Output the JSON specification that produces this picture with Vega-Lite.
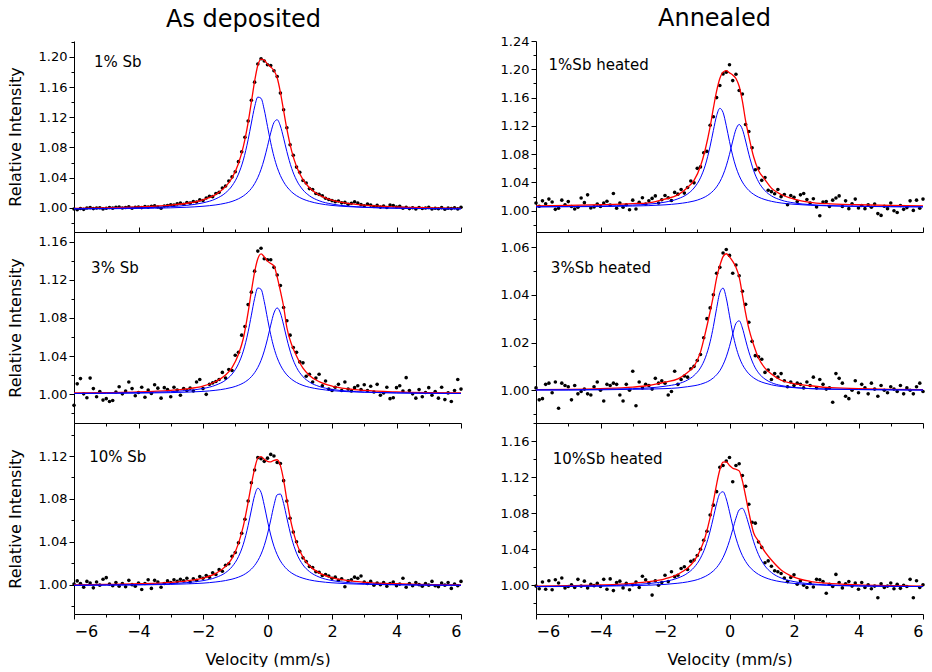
{
"$schema": "https://vega.github.io/schema/vega-lite/v6.json",
"background": "white",
"padding": {"left": 7, "top": 7, "right": 0, "bottom": 0},
"columns": 2,
"spacing": {"row": 0, "column": 75},
"bounds": "flush",
"config": {
 "view": {"stroke": null},
 "axis": {"grid": false, "domainColor": "#000", "tickColor": "#000", "labelColor": "#000", "titleColor": "#000", "labelFont": "DejaVu Sans", "titleFont": "DejaVu Sans", "titleFontWeight": "normal", "domainWidth": 1, "tickWidth": 1, "labelOverlap": false},
 "axisY": {"labelFontSize": 13, "labelPadding": 2, "titleFontSize": 16, "titlePadding": 15},
 "axisX": {"labelFontSize": 16, "titleFontSize": 16, "labelPadding": 4, "titlePadding": 12},
 "title": {"font": "DejaVu Sans", "fontSize": 24, "fontWeight": "normal", "color": "#000"},
 "text": {"font": "DejaVu Sans", "fontSize": 15, "color": "#000", "align": "left", "baseline": "middle"}
},
"datasets": {
 "A1f": [{"x":-6,"y":0.9994},{"x":-5,"y":1.0000},{"x":-4,"y":1.0012},{"x":-3,"y":1.0036},{"x":-2.5,"y":1.0061},{"x":-2,"y":1.0107},{"x":-1.6,"y":1.0179},{"x":-1.3,"y":1.0281},{"x":-1.1,"y":1.0396},{"x":-0.9,"y":1.0587},{"x":-0.75,"y":1.0810},{"x":-0.6,"y":1.1132},{"x":-0.5,"y":1.1401},{"x":-0.4,"y":1.1676},{"x":-0.3,"y":1.1889},{"x":-0.2,"y":1.1971},{"x":-0.1,"y":1.1956},{"x":0,"y":1.1904},{"x":0.1,"y":1.1865},{"x":0.2,"y":1.1819},{"x":0.3,"y":1.1723},{"x":0.4,"y":1.1531},{"x":0.5,"y":1.1287},{"x":0.6,"y":1.1046},{"x":0.75,"y":1.0752},{"x":0.9,"y":1.0548},{"x":1.1,"y":1.0373},{"x":1.3,"y":1.0266},{"x":1.6,"y":1.0170},{"x":2,"y":1.0102},{"x":2.5,"y":1.0059},{"x":3,"y":1.0035},{"x":4,"y":1.0011},{"x":5,"y":1.0000},{"x":6,"y":0.9994}],
 "A1a": [{"x":-6,"y":0.9988},{"x":-5,"y":0.9992},{"x":-4,"y":1.0000},{"x":-3,"y":1.0016},{"x":-2.5,"y":1.0033},{"x":-2,"y":1.0066},{"x":-1.6,"y":1.0120},{"x":-1.3,"y":1.0199},{"x":-1.1,"y":1.0291},{"x":-0.9,"y":1.0447},{"x":-0.75,"y":1.0633},{"x":-0.6,"y":1.0903},{"x":-0.5,"y":1.1124},{"x":-0.4,"y":1.1336},{"x":-0.3,"y":1.1467},{"x":-0.2,"y":1.1451},{"x":-0.1,"y":1.1298},{"x":0,"y":1.1078},{"x":0.1,"y":1.0862},{"x":0.2,"y":1.0679},{"x":0.3,"y":1.0536},{"x":0.4,"y":1.0427},{"x":0.5,"y":1.0344},{"x":0.6,"y":1.0280},{"x":0.75,"y":1.0210},{"x":0.9,"y":1.0161},{"x":1.1,"y":1.0116},{"x":1.3,"y":1.0086},{"x":1.6,"y":1.0056},{"x":2,"y":1.0032},{"x":2.5,"y":1.0016},{"x":3,"y":1.0006},{"x":4,"y":0.9995},{"x":5,"y":0.9990},{"x":6,"y":0.9987}],
 "A1b": [{"x":-6,"y":0.9986},{"x":-5,"y":0.9988},{"x":-4,"y":0.9992},{"x":-3,"y":1.0000},{"x":-2.5,"y":1.0008},{"x":-2,"y":1.0021},{"x":-1.6,"y":1.0039},{"x":-1.3,"y":1.0062},{"x":-1.1,"y":1.0085},{"x":-0.9,"y":1.0120},{"x":-0.75,"y":1.0157},{"x":-0.6,"y":1.0209},{"x":-0.5,"y":1.0257},{"x":-0.4,"y":1.0320},{"x":-0.3,"y":1.0402},{"x":-0.2,"y":1.0510},{"x":-0.1,"y":1.0648},{"x":0,"y":1.0816},{"x":0.1,"y":1.0993},{"x":0.2,"y":1.1130},{"x":0.3,"y":1.1167},{"x":0.4,"y":1.1084},{"x":0.5,"y":1.0923},{"x":0.6,"y":1.0746},{"x":0.75,"y":1.0522},{"x":0.9,"y":1.0367},{"x":1.1,"y":1.0237},{"x":1.3,"y":1.0160},{"x":1.6,"y":1.0094},{"x":2,"y":1.0050},{"x":2.5,"y":1.0023},{"x":3,"y":1.0009},{"x":4,"y":0.9996},{"x":5,"y":0.9990},{"x":6,"y":0.9987}],
 "A2f": [{"x":-6,"y":1.0014},{"x":-5,"y":1.0018},{"x":-4,"y":1.0025},{"x":-3,"y":1.0042},{"x":-2.5,"y":1.0058},{"x":-2,"y":1.0087},{"x":-1.6,"y":1.0135},{"x":-1.3,"y":1.0202},{"x":-1.1,"y":1.0280},{"x":-0.9,"y":1.0420},{"x":-0.75,"y":1.0585},{"x":-0.6,"y":1.0860},{"x":-0.5,"y":1.1080},{"x":-0.4,"y":1.1280},{"x":-0.3,"y":1.1420},{"x":-0.2,"y":1.1470},{"x":-0.1,"y":1.1440},{"x":0,"y":1.1395},{"x":0.1,"y":1.1370},{"x":0.2,"y":1.1345},{"x":0.3,"y":1.1230},{"x":0.4,"y":1.1080},{"x":0.5,"y":1.0920},{"x":0.6,"y":1.0700},{"x":0.75,"y":1.0520},{"x":0.9,"y":1.0401},{"x":1.1,"y":1.0274},{"x":1.3,"y":1.0198},{"x":1.6,"y":1.0133},{"x":2,"y":1.0086},{"x":2.5,"y":1.0057},{"x":3,"y":1.0041},{"x":4,"y":1.0025},{"x":5,"y":1.0017},{"x":6,"y":1.0014}],
 "A2a": [{"x":-6,"y":1.0010},{"x":-5,"y":1.0013},{"x":-4,"y":1.0018},{"x":-3,"y":1.0028},{"x":-2.5,"y":1.0040},{"x":-2,"y":1.0061},{"x":-1.6,"y":1.0097},{"x":-1.3,"y":1.0149},{"x":-1.1,"y":1.0212},{"x":-0.9,"y":1.0320},{"x":-0.75,"y":1.0453},{"x":-0.6,"y":1.0655},{"x":-0.5,"y":1.0829},{"x":-0.4,"y":1.1003},{"x":-0.3,"y":1.1114},{"x":-0.2,"y":1.1100},{"x":-0.1,"y":1.0971},{"x":0,"y":1.0792},{"x":0.1,"y":1.0624},{"x":0.2,"y":1.0487},{"x":0.3,"y":1.0383},{"x":0.4,"y":1.0306},{"x":0.5,"y":1.0248},{"x":0.6,"y":1.0204},{"x":0.75,"y":1.0157},{"x":0.9,"y":1.0124},{"x":1.1,"y":1.0094},{"x":1.3,"y":1.0074},{"x":1.6,"y":1.0055},{"x":2,"y":1.0039},{"x":2.5,"y":1.0028},{"x":3,"y":1.0022},{"x":4,"y":1.0015},{"x":5,"y":1.0011},{"x":6,"y":1.0010}],
 "A2b": [{"x":-6,"y":1.0009},{"x":-5,"y":1.0010},{"x":-4,"y":1.0013},{"x":-3,"y":1.0018},{"x":-2.5,"y":1.0023},{"x":-2,"y":1.0031},{"x":-1.6,"y":1.0043},{"x":-1.3,"y":1.0058},{"x":-1.1,"y":1.0073},{"x":-0.9,"y":1.0095},{"x":-0.75,"y":1.0119},{"x":-0.6,"y":1.0153},{"x":-0.5,"y":1.0185},{"x":-0.4,"y":1.0227},{"x":-0.3,"y":1.0282},{"x":-0.2,"y":1.0356},{"x":-0.1,"y":1.0455},{"x":0,"y":1.0581},{"x":0.1,"y":1.0725},{"x":0.2,"y":1.0852},{"x":0.3,"y":1.0905},{"x":0.4,"y":1.0852},{"x":0.5,"y":1.0725},{"x":0.6,"y":1.0581},{"x":0.75,"y":1.0402},{"x":0.9,"y":1.0282},{"x":1.1,"y":1.0185},{"x":1.3,"y":1.0129},{"x":1.6,"y":1.0083},{"x":2,"y":1.0052},{"x":2.5,"y":1.0034},{"x":3,"y":1.0024},{"x":4,"y":1.0015},{"x":5,"y":1.0011},{"x":6,"y":1.0009}],
 "A3f": [{"x":-6,"y":0.9998},{"x":-5,"y":1.0002},{"x":-4,"y":1.0008},{"x":-3,"y":1.0021},{"x":-2.5,"y":1.0036},{"x":-2,"y":1.0061},{"x":-1.6,"y":1.0105},{"x":-1.3,"y":1.0170},{"x":-1.1,"y":1.0245},{"x":-0.9,"y":1.0385},{"x":-0.75,"y":1.0545},{"x":-0.6,"y":1.0770},{"x":-0.5,"y":1.0935},{"x":-0.4,"y":1.1080},{"x":-0.3,"y":1.1180},{"x":-0.2,"y":1.1195},{"x":-0.1,"y":1.1170},{"x":0,"y":1.1150},{"x":0.1,"y":1.1145},{"x":0.2,"y":1.1160},{"x":0.3,"y":1.1165},{"x":0.4,"y":1.1110},{"x":0.5,"y":1.0975},{"x":0.6,"y":1.0790},{"x":0.75,"y":1.0555},{"x":0.9,"y":1.0390},{"x":1.1,"y":1.0256},{"x":1.3,"y":1.0176},{"x":1.6,"y":1.0110},{"x":2,"y":1.0065},{"x":2.5,"y":1.0037},{"x":3,"y":1.0022},{"x":4,"y":1.0008},{"x":5,"y":1.0001},{"x":6,"y":0.9998}],
 "A3a": [{"x":-6,"y":0.9994},{"x":-5,"y":0.9997},{"x":-4,"y":1.0000},{"x":-3,"y":1.0009},{"x":-2.5,"y":1.0019},{"x":-2,"y":1.0037},{"x":-1.6,"y":1.0067},{"x":-1.3,"y":1.0112},{"x":-1.1,"y":1.0167},{"x":-0.9,"y":1.0261},{"x":-0.75,"y":1.0377},{"x":-0.6,"y":1.0552},{"x":-0.5,"y":1.0696},{"x":-0.4,"y":1.0831},{"x":-0.3,"y":1.0899},{"x":-0.2,"y":1.0861},{"x":-0.1,"y":1.0740},{"x":0,"y":1.0594},{"x":0.1,"y":1.0463},{"x":0.2,"y":1.0358},{"x":0.3,"y":1.0280},{"x":0.4,"y":1.0221},{"x":0.5,"y":1.0178},{"x":0.6,"y":1.0144},{"x":0.75,"y":1.0108},{"x":0.9,"y":1.0083},{"x":1.1,"y":1.0060},{"x":1.3,"y":1.0044},{"x":1.6,"y":1.0029},{"x":2,"y":1.0017},{"x":2.5,"y":1.0008},{"x":3,"y":1.0003},{"x":4,"y":0.9998},{"x":5,"y":0.9995},{"x":6,"y":0.9994}],
 "A3b": [{"x":-6,"y":0.9993},{"x":-5,"y":0.9995},{"x":-4,"y":0.9997},{"x":-3,"y":1.0002},{"x":-2.5,"y":1.0007},{"x":-2,"y":1.0014},{"x":-1.6,"y":1.0025},{"x":-1.3,"y":1.0038},{"x":-1.1,"y":1.0051},{"x":-0.9,"y":1.0070},{"x":-0.75,"y":1.0090},{"x":-0.6,"y":1.0119},{"x":-0.5,"y":1.0145},{"x":-0.4,"y":1.0179},{"x":-0.3,"y":1.0224},{"x":-0.2,"y":1.0284},{"x":-0.1,"y":1.0365},{"x":0,"y":1.0472},{"x":0.1,"y":1.0602},{"x":0.2,"y":1.0740},{"x":0.3,"y":1.0838},{"x":0.4,"y":1.0845},{"x":0.5,"y":1.0757},{"x":0.6,"y":1.0622},{"x":0.75,"y":1.0430},{"x":0.9,"y":1.0294},{"x":1.1,"y":1.0184},{"x":1.3,"y":1.0122},{"x":1.6,"y":1.0071},{"x":2,"y":1.0038},{"x":2.5,"y":1.0019},{"x":3,"y":1.0009},{"x":4,"y":1.0000},{"x":5,"y":0.9996},{"x":6,"y":0.9994}],
 "B1f": [{"x":-6,"y":1.0070},{"x":-5,"y":1.0075},{"x":-4,"y":1.0085},{"x":-3,"y":1.0100},{"x":-2.5,"y":1.0113},{"x":-2,"y":1.0165},{"x":-1.6,"y":1.0225},{"x":-1.3,"y":1.0330},{"x":-1.1,"y":1.0430},{"x":-0.9,"y":1.0630},{"x":-0.75,"y":1.0870},{"x":-0.6,"y":1.1190},{"x":-0.5,"y":1.1450},{"x":-0.4,"y":1.1690},{"x":-0.3,"y":1.1870},{"x":-0.2,"y":1.1960},{"x":-0.1,"y":1.1980},{"x":0,"y":1.1950},{"x":0.1,"y":1.1920},{"x":0.2,"y":1.1870},{"x":0.3,"y":1.1760},{"x":0.4,"y":1.1550},{"x":0.5,"y":1.1270},{"x":0.6,"y":1.1050},{"x":0.75,"y":1.0760},{"x":0.9,"y":1.0570},{"x":1.1,"y":1.0440},{"x":1.3,"y":1.0320},{"x":1.6,"y":1.0230},{"x":2,"y":1.0165},{"x":2.5,"y":1.0120},{"x":3,"y":1.0100},{"x":4,"y":1.0085},{"x":5,"y":1.0075},{"x":6,"y":1.0070}],
 "B1a": [{"x":-6,"y":1.0057},{"x":-5,"y":1.0060},{"x":-4,"y":1.0066},{"x":-3,"y":1.0080},{"x":-2.5,"y":1.0094},{"x":-2,"y":1.0122},{"x":-1.6,"y":1.0169},{"x":-1.3,"y":1.0238},{"x":-1.1,"y":1.0322},{"x":-0.9,"y":1.0466},{"x":-0.75,"y":1.0645},{"x":-0.6,"y":1.0914},{"x":-0.5,"y":1.1136},{"x":-0.4,"y":1.1343},{"x":-0.3,"y":1.1448},{"x":-0.2,"y":1.1390},{"x":-0.1,"y":1.1203},{"x":0,"y":1.0979},{"x":0.1,"y":1.0777},{"x":0.2,"y":1.0617},{"x":0.3,"y":1.0496},{"x":0.4,"y":1.0406},{"x":0.5,"y":1.0339},{"x":0.6,"y":1.0287},{"x":0.75,"y":1.0232},{"x":0.9,"y":1.0193},{"x":1.1,"y":1.0158},{"x":1.3,"y":1.0134},{"x":1.6,"y":1.0110},{"x":2,"y":1.0092},{"x":2.5,"y":1.0078},{"x":3,"y":1.0070},{"x":4,"y":1.0062},{"x":5,"y":1.0058},{"x":6,"y":1.0056}],
 "B1b": [{"x":-6,"y":1.0055},{"x":-5,"y":1.0057},{"x":-4,"y":1.0060},{"x":-3,"y":1.0067},{"x":-2.5,"y":1.0073},{"x":-2,"y":1.0084},{"x":-1.6,"y":1.0100},{"x":-1.3,"y":1.0119},{"x":-1.1,"y":1.0138},{"x":-0.9,"y":1.0167},{"x":-0.75,"y":1.0198},{"x":-0.6,"y":1.0243},{"x":-0.5,"y":1.0284},{"x":-0.4,"y":1.0338},{"x":-0.3,"y":1.0410},{"x":-0.2,"y":1.0507},{"x":-0.1,"y":1.0635},{"x":0,"y":1.0799},{"x":0.1,"y":1.0986},{"x":0.2,"y":1.1151},{"x":0.3,"y":1.1220},{"x":0.4,"y":1.1151},{"x":0.5,"y":1.0986},{"x":0.6,"y":1.0799},{"x":0.75,"y":1.0566},{"x":0.9,"y":1.0410},{"x":1.1,"y":1.0284},{"x":1.3,"y":1.0211},{"x":1.6,"y":1.0151},{"x":2,"y":1.0111},{"x":2.5,"y":1.0087},{"x":3,"y":1.0075},{"x":4,"y":1.0064},{"x":5,"y":1.0058},{"x":6,"y":1.0056}],
 "B2f": [{"x":-6,"y":1.0003},{"x":-5,"y":1.0004},{"x":-4,"y":1.0007},{"x":-3,"y":1.0013},{"x":-2.5,"y":1.0020},{"x":-2,"y":1.0034},{"x":-1.6,"y":1.0048},{"x":-1.3,"y":1.0075},{"x":-1.1,"y":1.0100},{"x":-0.9,"y":1.0160},{"x":-0.75,"y":1.0240},{"x":-0.6,"y":1.0330},{"x":-0.5,"y":1.0395},{"x":-0.4,"y":1.0470},{"x":-0.3,"y":1.0522},{"x":-0.2,"y":1.0560},{"x":-0.1,"y":1.0572},{"x":0,"y":1.0559},{"x":0.1,"y":1.0540},{"x":0.2,"y":1.0515},{"x":0.3,"y":1.0475},{"x":0.4,"y":1.0400},{"x":0.5,"y":1.0323},{"x":0.6,"y":1.0258},{"x":0.75,"y":1.0190},{"x":0.9,"y":1.0135},{"x":1.1,"y":1.0093},{"x":1.3,"y":1.0068},{"x":1.6,"y":1.0042},{"x":2,"y":1.0028},{"x":2.5,"y":1.0019},{"x":3,"y":1.0012},{"x":4,"y":1.0007},{"x":5,"y":1.0004},{"x":6,"y":1.0003}],
 "B2a": [{"x":-6,"y":1.0002},{"x":-5,"y":1.0002},{"x":-4,"y":1.0004},{"x":-3,"y":1.0007},{"x":-2.5,"y":1.0010},{"x":-2,"y":1.0017},{"x":-1.6,"y":1.0027},{"x":-1.3,"y":1.0043},{"x":-1.1,"y":1.0062},{"x":-0.9,"y":1.0094},{"x":-0.75,"y":1.0136},{"x":-0.6,"y":1.0203},{"x":-0.5,"y":1.0267},{"x":-0.4,"y":1.0343},{"x":-0.3,"y":1.0409},{"x":-0.2,"y":1.0428},{"x":-0.1,"y":1.0386},{"x":0,"y":1.0312},{"x":0.1,"y":1.0240},{"x":0.2,"y":1.0182},{"x":0.3,"y":1.0139},{"x":0.4,"y":1.0108},{"x":0.5,"y":1.0086},{"x":0.6,"y":1.0069},{"x":0.75,"y":1.0052},{"x":0.9,"y":1.0040},{"x":1.1,"y":1.0030},{"x":1.3,"y":1.0023},{"x":1.6,"y":1.0016},{"x":2,"y":1.0011},{"x":2.5,"y":1.0007},{"x":3,"y":1.0005},{"x":4,"y":1.0003},{"x":5,"y":1.0002},{"x":6,"y":1.0001}],
 "B2b": [{"x":-6,"y":1.0001},{"x":-5,"y":1.0001},{"x":-4,"y":1.0002},{"x":-3,"y":1.0004},{"x":-2.5,"y":1.0005},{"x":-2,"y":1.0007},{"x":-1.6,"y":1.0010},{"x":-1.3,"y":1.0015},{"x":-1.1,"y":1.0019},{"x":-0.9,"y":1.0025},{"x":-0.75,"y":1.0032},{"x":-0.6,"y":1.0042},{"x":-0.5,"y":1.0052},{"x":-0.4,"y":1.0065},{"x":-0.3,"y":1.0082},{"x":-0.2,"y":1.0107},{"x":-0.1,"y":1.0140},{"x":0,"y":1.0184},{"x":0.1,"y":1.0236},{"x":0.2,"y":1.0280},{"x":0.3,"y":1.0291},{"x":0.4,"y":1.0261},{"x":0.5,"y":1.0210},{"x":0.6,"y":1.0161},{"x":0.75,"y":1.0107},{"x":0.9,"y":1.0073},{"x":1.1,"y":1.0047},{"x":1.3,"y":1.0032},{"x":1.6,"y":1.0020},{"x":2,"y":1.0012},{"x":2.5,"y":1.0007},{"x":3,"y":1.0005},{"x":4,"y":1.0003},{"x":5,"y":1.0002},{"x":6,"y":1.0001}],
 "B3f": [{"x":-6,"y":0.9990},{"x":-5,"y":0.9995},{"x":-4,"y":1.0003},{"x":-3,"y":1.0021},{"x":-2.5,"y":1.0039},{"x":-2,"y":1.0071},{"x":-1.6,"y":1.0122},{"x":-1.3,"y":1.0191},{"x":-1.1,"y":1.0269},{"x":-0.9,"y":1.0395},{"x":-0.75,"y":1.0542},{"x":-0.6,"y":1.0753},{"x":-0.5,"y":1.0932},{"x":-0.4,"y":1.1122},{"x":-0.3,"y":1.1283},{"x":-0.2,"y":1.1367},{"x":-0.1,"y":1.1370},{"x":0,"y":1.1331},{"x":0.1,"y":1.1300},{"x":0.2,"y":1.1289},{"x":0.3,"y":1.1271},{"x":0.4,"y":1.1160},{"x":0.5,"y":1.0990},{"x":0.6,"y":1.0810},{"x":0.75,"y":1.0580},{"x":0.9,"y":1.0490},{"x":1.1,"y":1.0370},{"x":1.3,"y":1.0280},{"x":1.6,"y":1.0170},{"x":2,"y":1.0090},{"x":2.5,"y":1.0043},{"x":3,"y":1.0023},{"x":4,"y":1.0004},{"x":5,"y":0.9995},{"x":6,"y":0.9990}],
 "B3a": [{"x":-6,"y":0.9986},{"x":-5,"y":0.9989},{"x":-4,"y":0.9994},{"x":-3,"y":1.0006},{"x":-2.5,"y":1.0019},{"x":-2,"y":1.0042},{"x":-1.6,"y":1.0080},{"x":-1.3,"y":1.0134},{"x":-1.1,"y":1.0197},{"x":-0.9,"y":1.0301},{"x":-0.75,"y":1.0424},{"x":-0.6,"y":1.0603},{"x":-0.5,"y":1.0753},{"x":-0.4,"y":1.0906},{"x":-0.3,"y":1.1018},{"x":-0.2,"y":1.1039},{"x":-0.1,"y":1.0959},{"x":0,"y":1.0816},{"x":0.1,"y":1.0661},{"x":0.2,"y":1.0524},{"x":0.3,"y":1.0414},{"x":0.4,"y":1.0329},{"x":0.5,"y":1.0264},{"x":0.6,"y":1.0213},{"x":0.75,"y":1.0159},{"x":0.9,"y":1.0120},{"x":1.1,"y":1.0085},{"x":1.3,"y":1.0061},{"x":1.6,"y":1.0038},{"x":2,"y":1.0020},{"x":2.5,"y":1.0007},{"x":3,"y":0.9999},{"x":4,"y":0.9991},{"x":5,"y":0.9987},{"x":6,"y":0.9985}],
 "B3b": [{"x":-6,"y":0.9984},{"x":-5,"y":0.9986},{"x":-4,"y":0.9989},{"x":-3,"y":0.9995},{"x":-2.5,"y":1.0000},{"x":-2,"y":1.0009},{"x":-1.6,"y":1.0022},{"x":-1.3,"y":1.0037},{"x":-1.1,"y":1.0052},{"x":-0.9,"y":1.0074},{"x":-0.75,"y":1.0098},{"x":-0.6,"y":1.0130},{"x":-0.5,"y":1.0159},{"x":-0.4,"y":1.0196},{"x":-0.3,"y":1.0245},{"x":-0.2,"y":1.0308},{"x":-0.1,"y":1.0391},{"x":0,"y":1.0495},{"x":0.1,"y":1.0619},{"x":0.2,"y":1.0745},{"x":0.3,"y":1.0837},{"x":0.4,"y":1.0855},{"x":0.5,"y":1.0788},{"x":0.6,"y":1.0670},{"x":0.75,"y":1.0483},{"x":0.9,"y":1.0339},{"x":1.1,"y":1.0214},{"x":1.3,"y":1.0141},{"x":1.6,"y":1.0080},{"x":2,"y":1.0040},{"x":2.5,"y":1.0016},{"x":3,"y":1.0004},{"x":4,"y":0.9993},{"x":5,"y":0.9988},{"x":6,"y":0.9985}],
 "A1p": [
  {"x":-6.0,"y":0.9985},{"x":-5.9,"y":0.9975},{"x":-5.8,"y":0.9992},{"x":-5.7,"y":0.9980},{"x":-5.6,"y":0.9998},{"x":-5.5,"y":1.0003},{"x":-5.4,"y":0.9990},{"x":-5.3,"y":0.9997},{"x":-5.2,"y":1.0002},{"x":-5.1,"y":0.9986},
  {"x":-5.0,"y":0.9995},{"x":-4.9,"y":1.0004},{"x":-4.8,"y":0.9996},{"x":-4.7,"y":1.0008},{"x":-4.6,"y":1.0012},{"x":-4.5,"y":0.9998},{"x":-4.4,"y":1.0005},{"x":-4.3,"y":1.0015},{"x":-4.2,"y":0.9994},{"x":-4.1,"y":1.0008},
  {"x":-4.0,"y":1.0011},{"x":-3.9,"y":1.0003},{"x":-3.8,"y":1.0017},{"x":-3.7,"y":1.0009},{"x":-3.6,"y":1.0021},{"x":-3.5,"y":1.0026},{"x":-3.4,"y":1.0012},{"x":-3.3,"y":0.9995},{"x":-3.2,"y":1.0024},{"x":-3.1,"y":1.0030},
  {"x":-3.0,"y":1.0041},{"x":-2.9,"y":1.0036},{"x":-2.8,"y":1.0052},{"x":-2.7,"y":1.0065},{"x":-2.6,"y":1.0048},{"x":-2.5,"y":1.0070},{"x":-2.4,"y":1.0062},{"x":-2.3,"y":1.0084},{"x":-2.2,"y":1.0078},{"x":-2.1,"y":1.0105},
  {"x":-2.0,"y":1.0098},{"x":-1.9,"y":1.0131},{"x":-1.8,"y":1.0152},{"x":-1.7,"y":1.0148},{"x":-1.6,"y":1.0190},{"x":-1.5,"y":1.0205},{"x":-1.4,"y":1.0262},{"x":-1.3,"y":1.0290},{"x":-1.2,"y":1.0355},{"x":-1.1,"y":1.0410},
  {"x":-1.0,"y":1.0478},{"x":-0.9,"y":1.0612},{"x":-0.8,"y":1.0742},{"x":-0.7,"y":1.0935},{"x":-0.6,"y":1.1150},{"x":-0.5,"y":1.1425},{"x":-0.4,"y":1.1665},{"x":-0.3,"y":1.1905},{"x":-0.2,"y":1.1975},{"x":-0.1,"y":1.1945},
  {"x":0.0,"y":1.1895},{"x":0.1,"y":1.1885},{"x":0.2,"y":1.1815},{"x":0.3,"y":1.1740},{"x":0.4,"y":1.1520},{"x":0.5,"y":1.1300},{"x":0.6,"y":1.1060},{"x":0.7,"y":1.0835},{"x":0.8,"y":1.0695},{"x":0.9,"y":1.0540},
  {"x":1.0,"y":1.0470},{"x":1.1,"y":1.0362},{"x":1.2,"y":1.0330},{"x":1.3,"y":1.0255},{"x":1.4,"y":1.0242},{"x":1.5,"y":1.0190},{"x":1.6,"y":1.0178},{"x":1.7,"y":1.0160},{"x":1.8,"y":1.0128},{"x":1.9,"y":1.0110},
  {"x":2.0,"y":1.0096},{"x":2.1,"y":1.0082},{"x":2.2,"y":1.0090},{"x":2.3,"y":1.0066},{"x":2.4,"y":1.0072},{"x":2.5,"y":1.0048},{"x":2.6,"y":1.0060},{"x":2.7,"y":1.0080},{"x":2.8,"y":1.0065},{"x":2.9,"y":1.0042},
  {"x":3.0,"y":1.0028},{"x":3.1,"y":1.0050},{"x":3.2,"y":1.0036},{"x":3.3,"y":1.0018},{"x":3.4,"y":1.0032},{"x":3.5,"y":1.0010},{"x":3.6,"y":1.0024},{"x":3.7,"y":1.0005},{"x":3.8,"y":1.0038},{"x":3.9,"y":1.0030},
  {"x":4.0,"y":1.0012},{"x":4.1,"y":1.0020},{"x":4.2,"y":0.9995},{"x":4.3,"y":1.0008},{"x":4.4,"y":0.9990},{"x":4.5,"y":1.0002},{"x":4.6,"y":0.9985},{"x":4.7,"y":1.0004},{"x":4.8,"y":0.9992},{"x":4.9,"y":0.9998},
  {"x":5.0,"y":1.0006},{"x":5.1,"y":0.9984},{"x":5.2,"y":0.9995},{"x":5.3,"y":0.9988},{"x":5.4,"y":1.0003},{"x":5.5,"y":0.9982},{"x":5.6,"y":0.9996},{"x":5.7,"y":0.9990},{"x":5.8,"y":1.0001},{"x":5.9,"y":0.9986},{"x":6.0,"y":1.0008}
 ],
 "A2p": [
  {"x":-6.0,"y":0.9885},{"x":-5.9,"y":1.0110},{"x":-5.8,"y":1.0165},{"x":-5.7,"y":1.0005},{"x":-5.6,"y":0.9965},{"x":-5.5,"y":1.0170},{"x":-5.4,"y":1.0060},{"x":-5.3,"y":0.9975},{"x":-5.2,"y":1.0030},{"x":-5.1,"y":0.9940},
  {"x":-5.0,"y":0.9955},{"x":-4.9,"y":0.9925},{"x":-4.8,"y":0.9935},{"x":-4.7,"y":1.0025},{"x":-4.6,"y":1.0080},{"x":-4.5,"y":1.0005},{"x":-4.4,"y":1.0035},{"x":-4.3,"y":1.0130},{"x":-4.2,"y":1.0060},{"x":-4.1,"y":0.9985},
  {"x":-4.0,"y":1.0020},{"x":-3.9,"y":1.0075},{"x":-3.8,"y":0.9970},{"x":-3.7,"y":1.0045},{"x":-3.6,"y":1.0010},{"x":-3.5,"y":1.0100},{"x":-3.4,"y":1.0065},{"x":-3.3,"y":0.9960},{"x":-3.2,"y":1.0070},{"x":-3.1,"y":1.0050},
  {"x":-3.0,"y":0.9975},{"x":-2.9,"y":1.0075},{"x":-2.8,"y":1.0045},{"x":-2.7,"y":0.9990},{"x":-2.6,"y":1.0060},{"x":-2.5,"y":1.0040},{"x":-2.4,"y":1.0065},{"x":-2.3,"y":1.0035},{"x":-2.2,"y":1.0130},{"x":-2.1,"y":1.0155},
  {"x":-2.0,"y":1.0060},{"x":-1.9,"y":1.0000},{"x":-1.8,"y":1.0105},{"x":-1.7,"y":1.0120},{"x":-1.6,"y":1.0135},{"x":-1.5,"y":1.0155},{"x":-1.4,"y":1.0230},{"x":-1.3,"y":1.0170},{"x":-1.2,"y":1.0260},{"x":-1.1,"y":1.0250},
  {"x":-1.0,"y":1.0410},{"x":-0.9,"y":1.0440},{"x":-0.8,"y":1.0620},{"x":-0.7,"y":1.0710},{"x":-0.6,"y":1.0940},{"x":-0.5,"y":1.1070},{"x":-0.4,"y":1.1290},{"x":-0.3,"y":1.1500},{"x":-0.2,"y":1.1530},{"x":-0.1,"y":1.1420},
  {"x":0.0,"y":1.1410},{"x":0.1,"y":1.1410},{"x":0.2,"y":1.1330},{"x":0.3,"y":1.1250},{"x":0.4,"y":1.1140},{"x":0.5,"y":1.0910},{"x":0.6,"y":1.0770},{"x":0.7,"y":1.0620},{"x":0.8,"y":1.0490},{"x":0.9,"y":1.0440},
  {"x":1.0,"y":1.0340},{"x":1.1,"y":1.0330},{"x":1.2,"y":1.0190},{"x":1.3,"y":1.0210},{"x":1.4,"y":1.0130},{"x":1.5,"y":1.0170},{"x":1.6,"y":1.0210},{"x":1.7,"y":1.0090},{"x":1.8,"y":1.0140},{"x":1.9,"y":1.0055},
  {"x":2.0,"y":1.0040},{"x":2.1,"y":1.0075},{"x":2.2,"y":1.0105},{"x":2.3,"y":1.0040},{"x":2.4,"y":1.0130},{"x":2.5,"y":1.0055},{"x":2.6,"y":1.0035},{"x":2.7,"y":1.0070},{"x":2.8,"y":1.0090},{"x":2.9,"y":1.0050},
  {"x":3.0,"y":1.0100},{"x":3.1,"y":1.0040},{"x":3.2,"y":1.0085},{"x":3.3,"y":1.0025},{"x":3.4,"y":1.0105},{"x":3.5,"y":0.9990},{"x":3.6,"y":1.0015},{"x":3.7,"y":1.0075},{"x":3.8,"y":0.9955},{"x":3.9,"y":0.9965},
  {"x":4.0,"y":1.0070},{"x":4.1,"y":1.0090},{"x":4.2,"y":1.0035},{"x":4.3,"y":1.0175},{"x":4.4,"y":1.0040},{"x":4.5,"y":1.0005},{"x":4.6,"y":0.9960},{"x":4.7,"y":1.0050},{"x":4.8,"y":0.9975},{"x":4.9,"y":1.0020},
  {"x":5.0,"y":1.0070},{"x":5.1,"y":0.9990},{"x":5.2,"y":1.0030},{"x":5.3,"y":0.9960},{"x":5.4,"y":1.0075},{"x":5.5,"y":0.9945},{"x":5.6,"y":1.0015},{"x":5.7,"y":0.9925},{"x":5.8,"y":1.0040},{"x":5.9,"y":1.0155},{"x":6.0,"y":1.0055}
 ],
 "A3p": [
  {"x":-6.0,"y":1.0005},{"x":-5.9,"y":1.0035},{"x":-5.8,"y":1.0010},{"x":-5.7,"y":0.9975},{"x":-5.6,"y":1.0030},{"x":-5.5,"y":1.0015},{"x":-5.4,"y":0.9970},{"x":-5.3,"y":1.0025},{"x":-5.2,"y":0.9995},{"x":-5.1,"y":1.0050},
  {"x":-5.0,"y":1.0065},{"x":-4.9,"y":1.0005},{"x":-4.8,"y":0.9990},{"x":-4.7,"y":1.0020},{"x":-4.6,"y":0.9985},{"x":-4.5,"y":1.0010},{"x":-4.4,"y":0.9980},{"x":-4.3,"y":1.0040},{"x":-4.2,"y":1.0000},{"x":-4.1,"y":0.9985},
  {"x":-4.0,"y":1.0015},{"x":-3.9,"y":0.9955},{"x":-3.8,"y":1.0010},{"x":-3.7,"y":1.0045},{"x":-3.6,"y":0.9965},{"x":-3.5,"y":1.0040},{"x":-3.4,"y":1.0025},{"x":-3.3,"y":0.9975},{"x":-3.2,"y":1.0010},{"x":-3.1,"y":1.0035},
  {"x":-3.0,"y":1.0020},{"x":-2.9,"y":1.0045},{"x":-2.8,"y":1.0030},{"x":-2.7,"y":1.0050},{"x":-2.6,"y":1.0035},{"x":-2.5,"y":1.0060},{"x":-2.4,"y":1.0025},{"x":-2.3,"y":1.0055},{"x":-2.2,"y":1.0040},{"x":-2.1,"y":1.0075},
  {"x":-2.0,"y":1.0060},{"x":-1.9,"y":1.0085},{"x":-1.8,"y":1.0070},{"x":-1.7,"y":1.0110},{"x":-1.6,"y":1.0095},{"x":-1.5,"y":1.0140},{"x":-1.4,"y":1.0125},{"x":-1.3,"y":1.0180},{"x":-1.2,"y":1.0195},{"x":-1.1,"y":1.0265},
  {"x":-1.0,"y":1.0300},{"x":-0.9,"y":1.0390},{"x":-0.8,"y":1.0480},{"x":-0.7,"y":1.0610},{"x":-0.6,"y":1.0780},{"x":-0.5,"y":1.0950},{"x":-0.4,"y":1.1070},{"x":-0.3,"y":1.1185},{"x":-0.2,"y":1.1175},{"x":-0.1,"y":1.1150},
  {"x":0.0,"y":1.1180},{"x":0.1,"y":1.1215},{"x":0.2,"y":1.1200},{"x":0.3,"y":1.1140},{"x":0.4,"y":1.1130},{"x":0.5,"y":1.0970},{"x":0.6,"y":1.0780},{"x":0.7,"y":1.0620},{"x":0.8,"y":1.0490},{"x":0.9,"y":1.0400},
  {"x":1.0,"y":1.0310},{"x":1.1,"y":1.0250},{"x":1.2,"y":1.0215},{"x":1.3,"y":1.0170},{"x":1.4,"y":1.0160},{"x":1.5,"y":1.0120},{"x":1.6,"y":1.0115},{"x":1.7,"y":1.0085},{"x":1.8,"y":1.0095},{"x":1.9,"y":1.0080},
  {"x":2.0,"y":1.0060},{"x":2.1,"y":1.0070},{"x":2.2,"y":1.0040},{"x":2.3,"y":1.0055},{"x":2.4,"y":0.9980},{"x":2.5,"y":1.0035},{"x":2.6,"y":1.0045},{"x":2.7,"y":1.0070},{"x":2.8,"y":1.0060},{"x":2.9,"y":1.0080},
  {"x":3.0,"y":1.0025},{"x":3.1,"y":1.0010},{"x":3.2,"y":1.0030},{"x":3.3,"y":0.9995},{"x":3.4,"y":1.0015},{"x":3.5,"y":1.0000},{"x":3.6,"y":1.0020},{"x":3.7,"y":0.9985},{"x":3.8,"y":1.0010},{"x":3.9,"y":1.0025},
  {"x":4.0,"y":0.9990},{"x":4.1,"y":1.0005},{"x":4.2,"y":1.0060},{"x":4.3,"y":0.9975},{"x":4.4,"y":1.0010},{"x":4.5,"y":0.9990},{"x":4.6,"y":1.0020},{"x":4.7,"y":1.0000},{"x":4.8,"y":0.9985},{"x":4.9,"y":1.0010},
  {"x":5.0,"y":0.9995},{"x":5.1,"y":1.0030},{"x":5.2,"y":0.9990},{"x":5.3,"y":0.9980},{"x":5.4,"y":1.0015},{"x":5.5,"y":0.9995},{"x":5.6,"y":1.0020},{"x":5.7,"y":0.9965},{"x":5.8,"y":1.0005},{"x":5.9,"y":0.9990},{"x":6.0,"y":1.0030}
 ],
 "B1p": [
  {"x":-6.0,"y":1.0110},{"x":-5.9,"y":1.0065},{"x":-5.8,"y":1.0140},{"x":-5.7,"y":1.0100},{"x":-5.6,"y":1.0165},{"x":-5.5,"y":1.0125},{"x":-5.4,"y":1.0020},{"x":-5.3,"y":1.0035},{"x":-5.2,"y":1.0150},{"x":-5.1,"y":1.0085},
  {"x":-5.0,"y":1.0130},{"x":-4.9,"y":1.0060},{"x":-4.8,"y":1.0025},{"x":-4.7,"y":1.0050},{"x":-4.6,"y":1.0180},{"x":-4.5,"y":1.0115},{"x":-4.4,"y":1.0225},{"x":-4.3,"y":1.0040},{"x":-4.2,"y":1.0055},{"x":-4.1,"y":1.0095},
  {"x":-4.0,"y":1.0060},{"x":-3.9,"y":1.0110},{"x":-3.8,"y":1.0135},{"x":-3.7,"y":1.0080},{"x":-3.6,"y":1.0245},{"x":-3.5,"y":1.0035},{"x":-3.4,"y":1.0110},{"x":-3.3,"y":1.0050},{"x":-3.2,"y":1.0085},{"x":-3.1,"y":1.0015},
  {"x":-3.0,"y":1.0150},{"x":-2.9,"y":1.0025},{"x":-2.8,"y":1.0120},{"x":-2.7,"y":1.0185},{"x":-2.6,"y":1.0095},{"x":-2.5,"y":1.0140},{"x":-2.4,"y":1.0175},{"x":-2.3,"y":1.0210},{"x":-2.2,"y":1.0110},{"x":-2.1,"y":1.0155},
  {"x":-2.0,"y":1.0215},{"x":-1.9,"y":1.0185},{"x":-1.8,"y":1.0145},{"x":-1.7,"y":1.0260},{"x":-1.6,"y":1.0235},{"x":-1.5,"y":1.0300},{"x":-1.4,"y":1.0250},{"x":-1.3,"y":1.0330},{"x":-1.2,"y":1.0420},{"x":-1.1,"y":1.0395},
  {"x":-1.0,"y":1.0600},{"x":-0.9,"y":1.0620},{"x":-0.8,"y":1.0820},{"x":-0.7,"y":1.0840},{"x":-0.6,"y":1.1210},{"x":-0.5,"y":1.1330},{"x":-0.4,"y":1.1600},{"x":-0.3,"y":1.1770},{"x":-0.2,"y":1.1935},{"x":-0.1,"y":1.1960},
  {"x":0.0,"y":1.2065},{"x":0.1,"y":1.1840},{"x":0.2,"y":1.1930},{"x":0.3,"y":1.1700},{"x":0.4,"y":1.1650},{"x":0.5,"y":1.1220},{"x":0.6,"y":1.1120},{"x":0.7,"y":1.0890},{"x":0.8,"y":1.0580},{"x":0.9,"y":1.0600},
  {"x":1.0,"y":1.0430},{"x":1.1,"y":1.0470},{"x":1.2,"y":1.0290},{"x":1.3,"y":1.0270},{"x":1.4,"y":1.0240},{"x":1.5,"y":1.0300},{"x":1.6,"y":1.0200},{"x":1.7,"y":1.0230},{"x":1.8,"y":1.0085},{"x":1.9,"y":1.0215},
  {"x":2.0,"y":1.0190},{"x":2.1,"y":1.0130},{"x":2.2,"y":1.0225},{"x":2.3,"y":1.0245},{"x":2.4,"y":1.0160},{"x":2.5,"y":1.0110},{"x":2.6,"y":1.0170},{"x":2.7,"y":1.0055},{"x":2.8,"y":0.9930},{"x":2.9,"y":1.0125},
  {"x":3.0,"y":1.0130},{"x":3.1,"y":1.0060},{"x":3.2,"y":1.0150},{"x":3.3,"y":1.0180},{"x":3.4,"y":1.0210},{"x":3.5,"y":1.0060},{"x":3.6,"y":1.0140},{"x":3.7,"y":1.0030},{"x":3.8,"y":1.0100},{"x":3.9,"y":1.0165},
  {"x":4.0,"y":1.0040},{"x":4.1,"y":1.0075},{"x":4.2,"y":1.0030},{"x":4.3,"y":1.0085},{"x":4.4,"y":1.0050},{"x":4.5,"y":1.0095},{"x":4.6,"y":0.9960},{"x":4.7,"y":0.9935},{"x":4.8,"y":1.0065},{"x":4.9,"y":1.0030},
  {"x":5.0,"y":1.0110},{"x":5.1,"y":1.0000},{"x":5.2,"y":0.9975},{"x":5.3,"y":1.0075},{"x":5.4,"y":1.0020},{"x":5.5,"y":1.0045},{"x":5.6,"y":1.0140},{"x":5.7,"y":1.0005},{"x":5.8,"y":1.0150},{"x":5.9,"y":1.0035},{"x":6.0,"y":1.0165}
 ],
 "B2p": [
  {"x":-6.0,"y":1.0010},{"x":-5.9,"y":0.9960},{"x":-5.8,"y":0.9965},{"x":-5.7,"y":1.0025},{"x":-5.6,"y":1.0030},{"x":-5.5,"y":0.9990},{"x":-5.4,"y":1.0035},{"x":-5.3,"y":0.9925},{"x":-5.2,"y":1.0030},{"x":-5.1,"y":1.0020},
  {"x":-5.0,"y":1.0015},{"x":-4.9,"y":0.9960},{"x":-4.8,"y":1.0020},{"x":-4.7,"y":0.9985},{"x":-4.6,"y":0.9995},{"x":-4.5,"y":1.0005},{"x":-4.4,"y":0.9985},{"x":-4.3,"y":0.9980},{"x":-4.2,"y":1.0015},{"x":-4.1,"y":1.0035},
  {"x":-4.0,"y":1.0000},{"x":-3.9,"y":0.9955},{"x":-3.8,"y":1.0025},{"x":-3.7,"y":1.0020},{"x":-3.6,"y":1.0030},{"x":-3.5,"y":1.0025},{"x":-3.4,"y":0.9980},{"x":-3.3,"y":0.9955},{"x":-3.2,"y":1.0025},{"x":-3.1,"y":1.0000},
  {"x":-3.0,"y":1.0080},{"x":-2.9,"y":0.9935},{"x":-2.8,"y":1.0035},{"x":-2.7,"y":1.0010},{"x":-2.6,"y":1.0025},{"x":-2.5,"y":1.0020},{"x":-2.4,"y":1.0005},{"x":-2.3,"y":1.0050},{"x":-2.2,"y":1.0030},{"x":-2.1,"y":1.0040},
  {"x":-2.0,"y":1.0030},{"x":-1.9,"y":0.9980},{"x":-1.8,"y":0.9995},{"x":-1.7,"y":1.0080},{"x":-1.6,"y":1.0025},{"x":-1.5,"y":1.0045},{"x":-1.4,"y":1.0060},{"x":-1.3,"y":1.0055},{"x":-1.2,"y":1.0090},{"x":-1.1,"y":1.0100},
  {"x":-1.0,"y":1.0125},{"x":-0.9,"y":1.0150},{"x":-0.8,"y":1.0220},{"x":-0.7,"y":1.0300},{"x":-0.6,"y":1.0345},{"x":-0.5,"y":1.0400},{"x":-0.4,"y":1.0490},{"x":-0.3,"y":1.0515},{"x":-0.2,"y":1.0575},{"x":-0.1,"y":1.0590},
  {"x":0.0,"y":1.0565},{"x":0.1,"y":1.0490},{"x":0.2,"y":1.0525},{"x":0.3,"y":1.0480},{"x":0.4,"y":1.0415},{"x":0.5,"y":1.0360},{"x":0.6,"y":1.0285},{"x":0.7,"y":1.0205},{"x":0.8,"y":1.0145},{"x":0.9,"y":1.0140},
  {"x":1.0,"y":1.0130},{"x":1.1,"y":1.0075},{"x":1.2,"y":1.0085},{"x":1.3,"y":1.0045},{"x":1.4,"y":1.0070},{"x":1.5,"y":1.0055},{"x":1.6,"y":1.0070},{"x":1.7,"y":1.0040},{"x":1.8,"y":1.0015},{"x":1.9,"y":1.0035},
  {"x":2.0,"y":1.0020},{"x":2.1,"y":1.0030},{"x":2.2,"y":1.0025},{"x":2.3,"y":1.0010},{"x":2.4,"y":1.0035},{"x":2.5,"y":1.0020},{"x":2.6,"y":1.0055},{"x":2.7,"y":1.0010},{"x":2.8,"y":1.0045},{"x":2.9,"y":1.0025},
  {"x":3.0,"y":1.0005},{"x":3.1,"y":1.0010},{"x":3.2,"y":0.9950},{"x":3.3,"y":1.0070},{"x":3.4,"y":1.0050},{"x":3.5,"y":1.0030},{"x":3.6,"y":0.9975},{"x":3.7,"y":0.9965},{"x":3.8,"y":1.0000},{"x":3.9,"y":1.0040},
  {"x":4.0,"y":0.9990},{"x":4.1,"y":1.0025},{"x":4.2,"y":1.0010},{"x":4.3,"y":0.9985},{"x":4.4,"y":1.0030},{"x":4.5,"y":1.0005},{"x":4.6,"y":0.9975},{"x":4.7,"y":1.0020},{"x":4.8,"y":1.0000},{"x":4.9,"y":0.9990},
  {"x":5.0,"y":1.0015},{"x":5.1,"y":1.0005},{"x":5.2,"y":0.9995},{"x":5.3,"y":1.0020},{"x":5.4,"y":0.9985},{"x":5.5,"y":1.0010},{"x":5.6,"y":1.0000},{"x":5.7,"y":0.9985},{"x":5.8,"y":1.0015},{"x":5.9,"y":1.0030},{"x":6.0,"y":0.9995}
 ],
 "B3p": [
  {"x":-6.0,"y":0.9990},{"x":-5.9,"y":0.9960},{"x":-5.8,"y":1.0035},{"x":-5.7,"y":0.9955},{"x":-5.6,"y":1.0050},{"x":-5.5,"y":0.9950},{"x":-5.4,"y":1.0060},{"x":-5.3,"y":1.0025},{"x":-5.2,"y":1.0080},{"x":-5.1,"y":0.9970},
  {"x":-5.0,"y":0.9985},{"x":-4.9,"y":1.0005},{"x":-4.8,"y":0.9975},{"x":-4.7,"y":1.0065},{"x":-4.6,"y":0.9990},{"x":-4.5,"y":1.0045},{"x":-4.4,"y":0.9970},{"x":-4.3,"y":1.0010},{"x":-4.2,"y":0.9995},{"x":-4.1,"y":1.0020},
  {"x":-4.0,"y":0.9985},{"x":-3.9,"y":1.0065},{"x":-3.8,"y":0.9955},{"x":-3.7,"y":1.0070},{"x":-3.6,"y":0.9940},{"x":-3.5,"y":1.0030},{"x":-3.4,"y":1.0045},{"x":-3.3,"y":0.9970},{"x":-3.2,"y":1.0020},{"x":-3.1,"y":0.9950},
  {"x":-3.0,"y":1.0005},{"x":-2.9,"y":1.0035},{"x":-2.8,"y":0.9975},{"x":-2.7,"y":1.0100},{"x":-2.6,"y":1.0060},{"x":-2.5,"y":1.0025},{"x":-2.4,"y":0.9890},{"x":-2.3,"y":1.0050},{"x":-2.2,"y":1.0000},{"x":-2.1,"y":1.0030},
  {"x":-2.0,"y":1.0110},{"x":-1.9,"y":1.0040},{"x":-1.8,"y":1.0150},{"x":-1.7,"y":1.0095},{"x":-1.6,"y":1.0110},{"x":-1.5,"y":1.0185},{"x":-1.4,"y":1.0205},{"x":-1.3,"y":1.0175},{"x":-1.2,"y":1.0265},{"x":-1.1,"y":1.0280},
  {"x":-1.0,"y":1.0330},{"x":-0.9,"y":1.0400},{"x":-0.8,"y":1.0500},{"x":-0.7,"y":1.0600},{"x":-0.6,"y":1.0780},{"x":-0.5,"y":1.0890},{"x":-0.4,"y":1.1040},{"x":-0.3,"y":1.1310},{"x":-0.2,"y":1.1330},{"x":-0.1,"y":1.1380},
  {"x":0.0,"y":1.1420},{"x":0.1,"y":1.1150},{"x":0.2,"y":1.1330},{"x":0.3,"y":1.1350},{"x":0.4,"y":1.1220},{"x":0.5,"y":1.1100},{"x":0.6,"y":1.0900},{"x":0.7,"y":1.0700},{"x":0.8,"y":1.0690},{"x":0.9,"y":1.0480},
  {"x":1.0,"y":1.0420},{"x":1.1,"y":1.0250},{"x":1.2,"y":1.0270},{"x":1.3,"y":1.0210},{"x":1.4,"y":1.0160},{"x":1.5,"y":1.0150},{"x":1.6,"y":1.0130},{"x":1.7,"y":1.0080},{"x":1.8,"y":1.0040},{"x":1.9,"y":1.0085},
  {"x":2.0,"y":1.0115},{"x":2.1,"y":1.0010},{"x":2.2,"y":1.0050},{"x":2.3,"y":1.0000},{"x":2.4,"y":0.9975},{"x":2.5,"y":1.0020},{"x":2.6,"y":0.9980},{"x":2.7,"y":1.0065},{"x":2.8,"y":1.0060},{"x":2.9,"y":1.0040},
  {"x":3.0,"y":0.9910},{"x":3.1,"y":1.0010},{"x":3.2,"y":0.9985},{"x":3.3,"y":1.0120},{"x":3.4,"y":1.0030},{"x":3.5,"y":0.9970},{"x":3.6,"y":1.0015},{"x":3.7,"y":1.0040},{"x":3.8,"y":0.9990},{"x":3.9,"y":1.0025},
  {"x":4.0,"y":0.9955},{"x":4.1,"y":1.0030},{"x":4.2,"y":0.9975},{"x":4.3,"y":1.0005},{"x":4.4,"y":0.9960},{"x":4.5,"y":0.9990},{"x":4.6,"y":0.9860},{"x":4.7,"y":1.0015},{"x":4.8,"y":0.9975},{"x":4.9,"y":0.9990},
  {"x":5.0,"y":1.0025},{"x":5.1,"y":0.9960},{"x":5.2,"y":1.0010},{"x":5.3,"y":0.9965},{"x":5.4,"y":1.0000},{"x":5.5,"y":0.9985},{"x":5.6,"y":1.0065},{"x":5.7,"y":0.9860},{"x":5.8,"y":1.0050},{"x":5.9,"y":0.9975},{"x":6.0,"y":1.0005}
 ]
},
"concat": [
 {
  "width": 387, "height": 191,
  "title": {"text": "As deposited", "offset": 4, "dx": -24},
  "layer": [
   {
    "encoding": {
     "x": {"field": "x", "type": "quantitative", "scale": {"domain": [-6, 6], "nice": false, "zero": false}, "axis": {"values": [-6,-5,-4,-3,-2,-1,0,1,2,3,4,5,6], "labels": false, "title": null, "tickSize": {"condition": {"test": "datum.value % 2 !== 0", "value": -3}, "value": -5}}},
     "y": {"field": "y", "type": "quantitative", "scale": {"domain": [0.968, 1.221], "nice": false, "zero": false}, "axis": {"values": [0.98,1.0,1.02,1.04,1.06,1.08,1.1,1.12,1.14,1.16,1.18,1.2,1.22], "format": ".2f", "labelExpr": "round(datum.value*100) % 4 === 0 ? datum.label : ''", "tickSize": {"condition": {"test": "round(datum.value*100) % 4 !== 0", "value": 3}, "value": 5}, "title": "Relative Intensity"}}
    },
    "layer": [
     {"data": {"name": "A1p"}, "mark": {"type": "circle", "size": 13, "color": "#000", "opacity": 1}},
     {"data": {"name": "A1f"}, "mark": {"type": "line", "color": "#ff0000", "strokeWidth": 1.3, "interpolate": "monotone"}},
     {"data": {"name": "A1a"}, "mark": {"type": "line", "color": "#0000ff", "strokeWidth": 1, "interpolate": "monotone"}},
     {"data": {"name": "A1b"}, "mark": {"type": "line", "color": "#0000ff", "strokeWidth": 1, "interpolate": "monotone"}}
    ]
   },
   {"data": {"values": [{"label": "1% Sb"}]}, "mark": {"type": "text"}, "encoding": {
     "x": {"datum": -5.38, "type": "quantitative", "scale": {"domain": [-6, 6], "nice": false, "zero": false}, "axis": {"values": [-6,-5,-4,-3,-2,-1,0,1,2,3,4,5,6], "labels": false, "title": null, "tickSize": {"condition": {"test": "datum.value % 2 !== 0", "value": -3}, "value": -5}}},
     "y": {"datum": 1.193, "type": "quantitative", "scale": {"domain": [0.968, 1.221], "nice": false, "zero": false}, "axis": {"values": [0.98,1.0,1.02,1.04,1.06,1.08,1.1,1.12,1.14,1.16,1.18,1.2,1.22], "format": ".2f", "labelExpr": "round(datum.value*100) % 4 === 0 ? datum.label : ''", "tickSize": {"condition": {"test": "round(datum.value*100) % 4 !== 0", "value": 3}, "value": 5}, "title": "Relative Intensity"}},
     "text": {"field": "label", "type": "nominal"}}}
  ]
 },
 {
  "width": 387, "height": 191,
  "title": {"text": "Annealed", "offset": 4, "dx": -15},
  "layer": [
   {
    "encoding": {
     "x": {"field": "x", "type": "quantitative", "scale": {"domain": [-6, 6], "nice": false, "zero": false}, "axis": {"values": [-6,-5,-4,-3,-2,-1,0,1,2,3,4,5,6], "labels": false, "title": null, "tickSize": {"condition": {"test": "datum.value % 2 !== 0", "value": -3}, "value": -5}}},
     "y": {"field": "y", "type": "quantitative", "scale": {"domain": [0.97, 1.24], "nice": false, "zero": false}, "axis": {"values": [0.98,1.0,1.02,1.04,1.06,1.08,1.1,1.12,1.14,1.16,1.18,1.2,1.22,1.24], "format": ".2f", "labelExpr": "round(datum.value*100) % 4 === 0 ? datum.label : ''", "tickSize": {"condition": {"test": "round(datum.value*100) % 4 !== 0", "value": 3}, "value": 5}, "title": null}}
    },
    "layer": [
     {"data": {"name": "B1p"}, "mark": {"type": "circle", "size": 13, "color": "#000", "opacity": 1}},
     {"data": {"name": "B1f"}, "mark": {"type": "line", "color": "#ff0000", "strokeWidth": 1.3, "interpolate": "monotone"}},
     {"data": {"name": "B1a"}, "mark": {"type": "line", "color": "#0000ff", "strokeWidth": 1, "interpolate": "monotone"}},
     {"data": {"name": "B1b"}, "mark": {"type": "line", "color": "#0000ff", "strokeWidth": 1, "interpolate": "monotone"}}
    ]
   },
   {"data": {"values": [{"label": "1%Sb heated"}]}, "mark": {"type": "text"}, "encoding": {
     "x": {"datum": -5.61, "type": "quantitative", "scale": {"domain": [-6, 6], "nice": false, "zero": false}, "axis": {"values": [-6,-5,-4,-3,-2,-1,0,1,2,3,4,5,6], "labels": false, "title": null, "tickSize": {"condition": {"test": "datum.value % 2 !== 0", "value": -3}, "value": -5}}},
     "y": {"datum": 1.206, "type": "quantitative", "scale": {"domain": [0.97, 1.24], "nice": false, "zero": false}, "axis": {"values": [0.98,1.0,1.02,1.04,1.06,1.08,1.1,1.12,1.14,1.16,1.18,1.2,1.22,1.24], "format": ".2f", "labelExpr": "round(datum.value*100) % 4 === 0 ? datum.label : ''", "tickSize": {"condition": {"test": "round(datum.value*100) % 4 !== 0", "value": 3}, "value": 5}, "title": null}},
     "text": {"field": "label", "type": "nominal"}}}
  ]
 },
 {
  "width": 387, "height": 191,
  "layer": [
   {
    "encoding": {
     "x": {"field": "x", "type": "quantitative", "scale": {"domain": [-6, 6], "nice": false, "zero": false}, "axis": {"values": [-6,-5,-4,-3,-2,-1,0,1,2,3,4,5,6], "labels": false, "title": null, "tickSize": {"condition": {"test": "datum.value % 2 !== 0", "value": 3}, "value": 5}}},
     "y": {"field": "y", "type": "quantitative", "scale": {"domain": [0.970, 1.170], "nice": false, "zero": false}, "axis": {"values": [0.98,1.0,1.02,1.04,1.06,1.08,1.1,1.12,1.14,1.16], "format": ".2f", "labelExpr": "round(datum.value*100) % 4 === 0 ? datum.label : ''", "tickSize": {"condition": {"test": "round(datum.value*100) % 4 !== 0", "value": 3}, "value": 5}, "title": "Relative Intensity"}}
    },
    "layer": [
     {"data": {"name": "A2p"}, "mark": {"type": "circle", "size": 13, "color": "#000", "opacity": 1}},
     {"data": {"name": "A2f"}, "mark": {"type": "line", "color": "#ff0000", "strokeWidth": 1.3, "interpolate": "monotone"}},
     {"data": {"name": "A2a"}, "mark": {"type": "line", "color": "#0000ff", "strokeWidth": 1, "interpolate": "monotone"}},
     {"data": {"name": "A2b"}, "mark": {"type": "line", "color": "#0000ff", "strokeWidth": 1, "interpolate": "monotone"}}
    ]
   },
   {"data": {"values": [{"label": "3% Sb"}]}, "mark": {"type": "text"}, "encoding": {
     "x": {"datum": -5.47, "type": "quantitative", "scale": {"domain": [-6, 6], "nice": false, "zero": false}, "axis": {"values": [-6,-5,-4,-3,-2,-1,0,1,2,3,4,5,6], "labels": false, "title": null, "tickSize": {"condition": {"test": "datum.value % 2 !== 0", "value": 3}, "value": 5}}},
     "y": {"datum": 1.1324, "type": "quantitative", "scale": {"domain": [0.970, 1.170], "nice": false, "zero": false}, "axis": {"values": [0.98,1.0,1.02,1.04,1.06,1.08,1.1,1.12,1.14,1.16], "format": ".2f", "labelExpr": "round(datum.value*100) % 4 === 0 ? datum.label : ''", "tickSize": {"condition": {"test": "round(datum.value*100) % 4 !== 0", "value": 3}, "value": 5}, "title": "Relative Intensity"}},
     "text": {"field": "label", "type": "nominal"}}}
  ]
 },
 {
  "width": 387, "height": 191,
  "layer": [
   {
    "encoding": {
     "x": {"field": "x", "type": "quantitative", "scale": {"domain": [-6, 6], "nice": false, "zero": false}, "axis": {"values": [-6,-5,-4,-3,-2,-1,0,1,2,3,4,5,6], "labels": false, "title": null, "tickSize": {"condition": {"test": "datum.value % 2 !== 0", "value": 3}, "value": 5}}},
     "y": {"field": "y", "type": "quantitative", "scale": {"domain": [0.9863, 1.0663], "nice": false, "zero": false}, "axis": {"values": [0.99,1.0,1.01,1.02,1.03,1.04,1.05,1.06], "format": ".2f", "labelExpr": "round(datum.value*100) % 2 === 0 ? datum.label : ''", "tickSize": {"condition": {"test": "round(datum.value*100) % 2 !== 0", "value": 3}, "value": 5}, "title": null}}
    },
    "layer": [
     {"data": {"name": "B2p"}, "mark": {"type": "circle", "size": 13, "color": "#000", "opacity": 1}},
     {"data": {"name": "B2f"}, "mark": {"type": "line", "color": "#ff0000", "strokeWidth": 1.3, "interpolate": "monotone"}},
     {"data": {"name": "B2a"}, "mark": {"type": "line", "color": "#0000ff", "strokeWidth": 1, "interpolate": "monotone"}},
     {"data": {"name": "B2b"}, "mark": {"type": "line", "color": "#0000ff", "strokeWidth": 1, "interpolate": "monotone"}}
    ]
   },
   {"data": {"values": [{"label": "3%Sb heated"}]}, "mark": {"type": "text"}, "encoding": {
     "x": {"datum": -5.54, "type": "quantitative", "scale": {"domain": [-6, 6], "nice": false, "zero": false}, "axis": {"values": [-6,-5,-4,-3,-2,-1,0,1,2,3,4,5,6], "labels": false, "title": null, "tickSize": {"condition": {"test": "datum.value % 2 !== 0", "value": 3}, "value": 5}}},
     "y": {"datum": 1.0513, "type": "quantitative", "scale": {"domain": [0.9863, 1.0663], "nice": false, "zero": false}, "axis": {"values": [0.99,1.0,1.01,1.02,1.03,1.04,1.05,1.06], "format": ".2f", "labelExpr": "round(datum.value*100) % 2 === 0 ? datum.label : ''", "tickSize": {"condition": {"test": "round(datum.value*100) % 2 !== 0", "value": 3}, "value": 5}, "title": null}},
     "text": {"field": "label", "type": "nominal"}}}
  ]
 },
 {
  "width": 387, "height": 191,
  "layer": [
   {
    "encoding": {
     "x": {"field": "x", "type": "quantitative", "scale": {"domain": [-6, 6], "nice": false, "zero": false}, "axis": {"values": [-6,-5,-4,-3,-2,-1,0,1,2,3,4,5,6], "labelExpr": "datum.value % 2 === 0 ? datum.label : ''", "title": "Velocity (mm/s)", "tickSize": {"condition": {"test": "datum.value % 2 !== 0", "value": 3}, "value": 5}}},
     "y": {"field": "y", "type": "quantitative", "scale": {"domain": [0.9726, 1.1508], "nice": false, "zero": false}, "axis": {"values": [0.98,1.0,1.02,1.04,1.06,1.08,1.1,1.12,1.14], "format": ".2f", "labelExpr": "round(datum.value*100) % 4 === 0 ? datum.label : ''", "tickSize": {"condition": {"test": "round(datum.value*100) % 4 !== 0", "value": 3}, "value": 5}, "title": "Relative Intensity"}}
    },
    "layer": [
     {"data": {"name": "A3p"}, "mark": {"type": "circle", "size": 13, "color": "#000", "opacity": 1}},
     {"data": {"name": "A3f"}, "mark": {"type": "line", "color": "#ff0000", "strokeWidth": 1.3, "interpolate": "monotone"}},
     {"data": {"name": "A3a"}, "mark": {"type": "line", "color": "#0000ff", "strokeWidth": 1, "interpolate": "monotone"}},
     {"data": {"name": "A3b"}, "mark": {"type": "line", "color": "#0000ff", "strokeWidth": 1, "interpolate": "monotone"}}
    ]
   },
   {"data": {"values": [{"label": "10% Sb"}]}, "mark": {"type": "text"}, "encoding": {
     "x": {"datum": -5.53, "type": "quantitative", "scale": {"domain": [-6, 6], "nice": false, "zero": false}, "axis": {"values": [-6,-5,-4,-3,-2,-1,0,1,2,3,4,5,6], "labelExpr": "datum.value % 2 === 0 ? datum.label : ''", "title": "Velocity (mm/s)", "tickSize": {"condition": {"test": "datum.value % 2 !== 0", "value": 3}, "value": 5}}},
     "y": {"datum": 1.119, "type": "quantitative", "scale": {"domain": [0.9726, 1.1508], "nice": false, "zero": false}, "axis": {"values": [0.98,1.0,1.02,1.04,1.06,1.08,1.1,1.12,1.14], "format": ".2f", "labelExpr": "round(datum.value*100) % 4 === 0 ? datum.label : ''", "tickSize": {"condition": {"test": "round(datum.value*100) % 4 !== 0", "value": 3}, "value": 5}, "title": "Relative Intensity"}},
     "text": {"field": "label", "type": "nominal"}}}
  ]
 },
 {
  "width": 387, "height": 191,
  "layer": [
   {
    "encoding": {
     "x": {"field": "x", "type": "quantitative", "scale": {"domain": [-6, 6], "nice": false, "zero": false}, "axis": {"values": [-6,-5,-4,-3,-2,-1,0,1,2,3,4,5,6], "labelExpr": "datum.value % 2 === 0 ? datum.label : ''", "title": "Velocity (mm/s)", "tickSize": {"condition": {"test": "datum.value % 2 !== 0", "value": 3}, "value": 5}}},
     "y": {"field": "y", "type": "quantitative", "scale": {"domain": [0.968, 1.1803], "nice": false, "zero": false}, "axis": {"values": [0.98,1.0,1.02,1.04,1.06,1.08,1.1,1.12,1.14,1.16,1.18], "format": ".2f", "labelExpr": "round(datum.value*100) % 4 === 0 ? datum.label : ''", "tickSize": {"condition": {"test": "round(datum.value*100) % 4 !== 0", "value": 3}, "value": 5}, "title": null}}
    },
    "layer": [
     {"data": {"name": "B3p"}, "mark": {"type": "circle", "size": 13, "color": "#000", "opacity": 1}},
     {"data": {"name": "B3f"}, "mark": {"type": "line", "color": "#ff0000", "strokeWidth": 1.3, "interpolate": "monotone"}},
     {"data": {"name": "B3a"}, "mark": {"type": "line", "color": "#0000ff", "strokeWidth": 1, "interpolate": "monotone"}},
     {"data": {"name": "B3b"}, "mark": {"type": "line", "color": "#0000ff", "strokeWidth": 1, "interpolate": "monotone"}}
    ]
   },
   {"data": {"values": [{"label": "10%Sb heated"}]}, "mark": {"type": "text"}, "encoding": {
     "x": {"datum": -5.48, "type": "quantitative", "scale": {"domain": [-6, 6], "nice": false, "zero": false}, "axis": {"values": [-6,-5,-4,-3,-2,-1,0,1,2,3,4,5,6], "labelExpr": "datum.value % 2 === 0 ? datum.label : ''", "title": "Velocity (mm/s)", "tickSize": {"condition": {"test": "datum.value % 2 !== 0", "value": 3}, "value": 5}}},
     "y": {"datum": 1.140, "type": "quantitative", "scale": {"domain": [0.968, 1.1803], "nice": false, "zero": false}, "axis": {"values": [0.98,1.0,1.02,1.04,1.06,1.08,1.1,1.12,1.14,1.16,1.18], "format": ".2f", "labelExpr": "round(datum.value*100) % 4 === 0 ? datum.label : ''", "tickSize": {"condition": {"test": "round(datum.value*100) % 4 !== 0", "value": 3}, "value": 5}, "title": null}},
     "text": {"field": "label", "type": "nominal"}}}
  ]
 }
]
}
